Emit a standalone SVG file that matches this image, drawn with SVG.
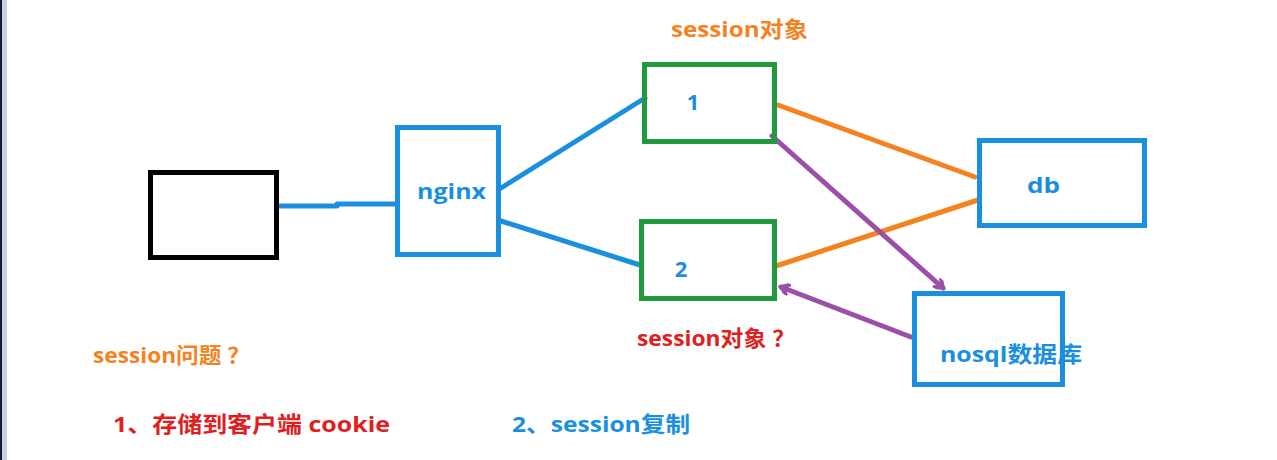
<svg xmlns="http://www.w3.org/2000/svg" width="1277" height="460" viewBox="0 0 1277 460">
<defs>
<style>
.box{fill:none;stroke-width:5}
.blue{stroke:#1a8fe0}
.green{stroke:#1f9a3c}
.black{stroke:#000}
.t{font-family:"Open Sans","Noto Sans CJK SC",sans-serif;font-weight:bold;font-size:22px}
.ln{fill:none;stroke-width:5;stroke-linecap:round}
</style>
<marker id="ah" markerWidth="12" markerHeight="12" refX="9" refY="6" orient="auto" markerUnits="userSpaceOnUse">
<path d="M2,1 L9,6 L2,11" fill="none" stroke="#9b4fa8" stroke-width="4" stroke-linecap="round"/>
</marker>
</defs>
<rect width="1277" height="460" fill="#fff"/>
<rect x="0" y="0" width="2" height="460" fill="#1a1a2a"/>
<rect x="2" y="0" width="5" height="460" fill="#c9d2e2"/>
<g id="connectors">
<path class="ln" stroke="#1a8fe0" d="M279,206 L337,206 M337,204 L396,204"/>
<path class="ln" stroke="#1a8fe0" d="M501,188 L645,98"/>
<path class="ln" stroke="#1a8fe0" d="M501,221 L640,265"/>
<path class="ln" stroke="#f5821f" d="M778,105 L975,177"/>
<path class="ln" stroke="#f5821f" d="M776,266 L978,200"/>
<path class="ln" stroke="#9b4fa8" d="M772,136 L943,288" marker-end="url(#ah)"/>
<path class="ln" stroke="#9b4fa8" d="M911,337 L781,287" marker-end="url(#ah)"/>
</g>
<g id="client"><rect class="box black" x="150.5" y="172.5" width="126" height="85"/></g>
<g id="nginx"><rect class="box blue" x="397.5" y="127.5" width="101" height="127"/>
<text class="t" x="417" y="199" fill="#1a8fe0" textLength="69" lengthAdjust="spacingAndGlyphs">nginx</text></g>
<g id="server1"><rect class="box green" x="644.5" y="64.5" width="130" height="77"/>
<text class="t" x="693" y="110" fill="#1a8fe0" text-anchor="middle">1</text></g>
<g id="server2"><rect class="box green" x="641.5" y="221.5" width="133" height="77"/>
<text class="t" x="681" y="277" fill="#1a8fe0" text-anchor="middle">2</text></g>
<g id="db"><rect class="box blue" x="979.5" y="140.5" width="165" height="85"/>
<text class="t" x="1027" y="193" fill="#1a8fe0" textLength="33" lengthAdjust="spacingAndGlyphs">db</text></g>
<g id="nosql"><rect class="box blue" x="914.5" y="293.5" width="148" height="91"/>
<text class="t" x="940" y="362" fill="#1a8fe0" textLength="142" lengthAdjust="spacingAndGlyphs">nosql数据库</text></g>
<g id="labels">
<text class="t" x="671" y="37" fill="#f5821f" textLength="137" lengthAdjust="spacingAndGlyphs">session对象</text>
<text class="t" x="637" y="346" fill="#e02020" textLength="158" lengthAdjust="spacingAndGlyphs">session对象 ？</text>
<text class="t" x="93" y="363" fill="#f5821f" textLength="157" lengthAdjust="spacingAndGlyphs">session问题 ？</text>
<text class="t" x="113" y="432" fill="#e02020" textLength="277" lengthAdjust="spacingAndGlyphs">1、存储到客户端 cookie</text>
<text class="t" x="512" y="432" fill="#1a8fe0" textLength="178" lengthAdjust="spacingAndGlyphs">2、session复制</text>
</g>
</svg>
